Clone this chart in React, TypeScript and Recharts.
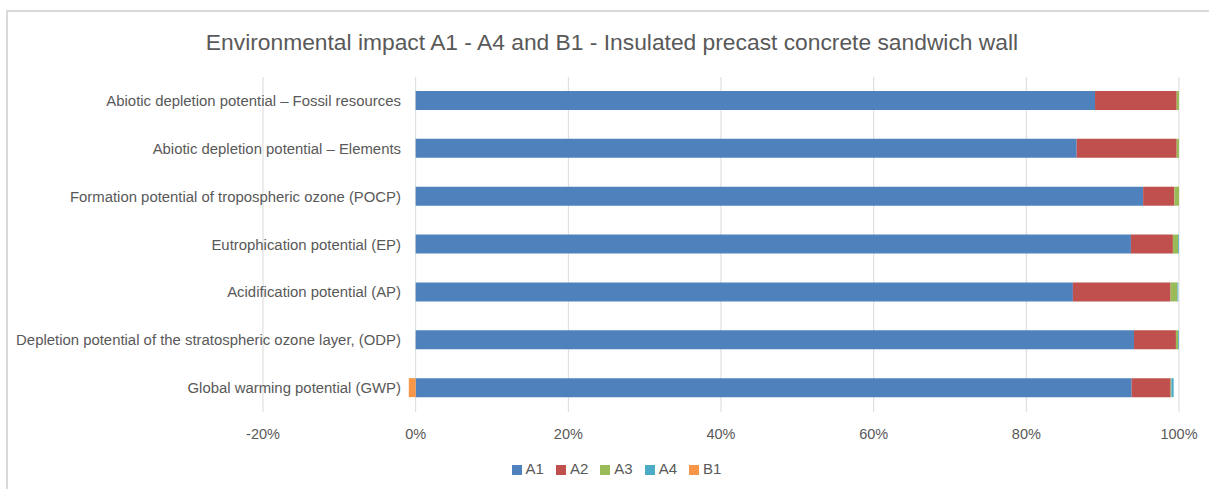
import React from "react";
import { BarChart, Bar, XAxis, YAxis, CartesianGrid, Legend } from "recharts";

const categories = [
  "Abiotic depletion potential – Fossil resources",
  "Abiotic depletion potential – Elements",
  "Formation potential of tropospheric ozone (POCP)",
  "Eutrophication potential (EP)",
  "Acidification potential (AP)",
  "Depletion potential of the stratospheric ozone layer, (ODP)",
  "Global warming potential (GWP)",
];

const a1 = [89.0, 86.6, 95.3, 93.7, 86.1, 94.1, 93.8];
const a2 = [10.7, 13.1, 4.1, 5.5, 12.8, 5.5, 5.1];
const a3 = [0.3, 0.3, 0.6, 0.7, 0.9, 0.3, 0.1];
const a4 = [0.0, 0.0, 0.0, 0.1, 0.1, 0.1, 0.3];
const b1 = [0, 0, 0, 0, 0, 0, -0.9];

const xTicks = [-20, 0, 20, 40, 60, 80, 100];

const data = categories.map((name, i) => ({
  name,
  A1: a1[i],
  A2: a2[i],
  A3: a3[i],
  A4: a4[i],
  B1: b1[i],
}));

const series = [
  { key: "A1", color: "#4f81bd" },
  { key: "A2", color: "#c0504d" },
  { key: "A3", color: "#9bbb59" },
  { key: "A4", color: "#4bacc6" },
  { key: "B1", color: "#f79646" },
];

const textColor = "#595959";

function CategoryTick(props: any) {
  const { x, y, payload } = props;
  return (
    <text x={x + 138} y={y} textAnchor="end" dominantBaseline="central" fill={textColor} fontSize={14.9}>
      {payload.value}
    </text>
  );
}

export default function App() {
  return (
    <div
      style={{
        position: "absolute",
        left: 0,
        top: 0,
        width: 1209,
        height: 489,
        overflow: "hidden",
        background: "#fff",
        fontFamily: "'Liberation Sans', Arial, sans-serif",
      }}
    >
      <div
        style={{
          position: "absolute",
          left: 6,
          top: 10,
          width: 1220,
          height: 500,
          border: "2px solid #d9d9d9",
        }}
      />
      <div
        style={{
          position: "absolute",
          left: 0,
          top: 29,
          width: 1224,
          textAlign: "center",
          fontSize: 22.8,
          lineHeight: "26px",
          color: textColor,
        }}
      >
        Environmental impact A1 - A4 and B1 - Insulated precast concrete sandwich wall
      </div>
      <div style={{ position: "absolute", left: 0, top: 0 }}>
        <BarChart
          width={1209}
          height={489}
          data={data}
          layout="vertical"
          stackOffset="sign"
          barSize={19}
          margin={{ top: 77, right: 30, bottom: 30, left: 262 }}
        >
          <CartesianGrid horizontal={false} stroke="#d9d9d9" />
          <XAxis
            type="number"
            domain={[-20, 100]}
            ticks={xTicks}
            tickFormatter={(v) => `${v}%`}
            axisLine={false}
            tickLine={false}
            tickMargin={11}
            tick={{ fill: textColor, fontSize: 14.5 }}
            interval={0}
          />
          <YAxis
            type="category"
            dataKey="name"
            width={1}
            axisLine={false}
            tickLine={false}
            tickSize={0}
            tickMargin={0}
            tick={(p: any) => <CategoryTick {...p} />}
            interval={0}
          />
          <Legend
            verticalAlign="bottom"
            iconType="square"
            iconSize={10}
            wrapperStyle={{ left: 0, width: 1245, bottom: 12, fontSize: 15 }}
            formatter={(value) => <span style={{ color: textColor, marginRight: 2 }}>{value}</span>}
          />
          {series.map((s) => (
            <Bar key={s.key} dataKey={s.key} stackId="a" fill={s.color} isAnimationActive={false} />
          ))}
        </BarChart>
      </div>
    </div>
  );
}
